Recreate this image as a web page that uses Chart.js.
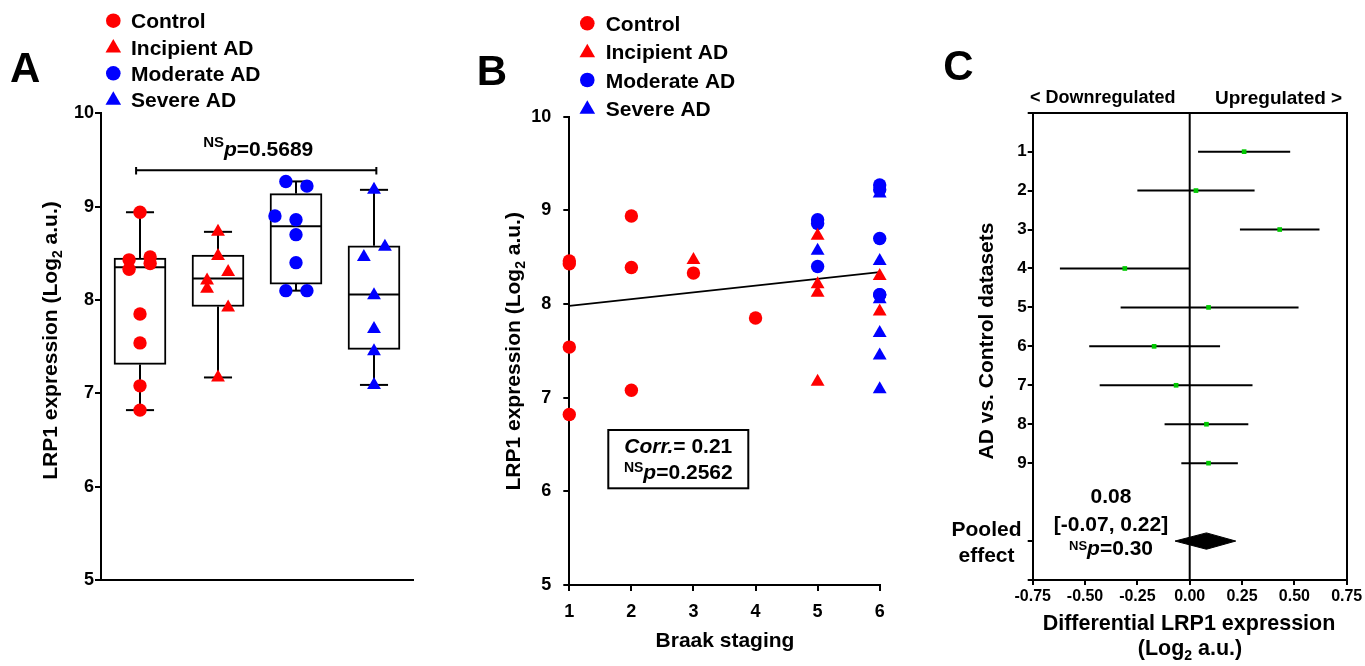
<!DOCTYPE html>
<html><head><meta charset="utf-8">
<script src="https://cdn.jsdelivr.net/npm/chart.js@4.4.1/dist/chart.umd.min.js"></script>
<style>
html,body{margin:0;padding:0;background:#fff;width:1365px;height:666px;overflow:hidden}
canvas{position:absolute;top:0}
#ca{left:0}#cb{left:460px}#cc{left:900px}
</style></head><body>
<canvas id="ca" width="460" height="666"></canvas>
<canvas id="cb" width="440" height="666"></canvas>
<canvas id="cc" width="465" height="666"></canvas>
<script>
// ---------------- DATA ----------------
const groups = ['Control', 'Incipient AD', 'Moderate AD', 'Severe AD'];
const controlValues   = [8.94, 8.46, 8.43, 8.39, 8.33, 7.85, 7.54, 7.08, 6.82];
const controlBraak    = [2, 1, 1, 2, 3, 4, 1, 2, 1];
const controlJitter   = [0, 0.13, -0.14, 0.13, -0.14, 0, 0, 0, 0];
const incipientValues = [8.73, 8.47, 8.30, 8.21, 8.12, 7.92, 7.17];
const incipientBraak  = [5, 3, 6, 5, 5, 6, 5];
const incipientJitter = [0, 0, 0.13, -0.14, -0.14, 0.13, 0];
const moderateValues  = [9.27, 9.22, 8.90, 8.86, 8.70, 8.40, 8.10, 8.10];
const moderateBraak   = [6, 6, 5, 5, 6, 5, 6, 6];
const moderateJitter  = [-0.13, 0.14, -0.27, 0, 0, 0, -0.13, 0.14];
const severeValues    = [9.18, 8.57, 8.46, 8.05, 7.69, 7.45, 7.09];
const severeBraak     = [6, 5, 6, 6, 6, 6, 6];
const severeJitter    = [0, 0.14, -0.13, 0, 0, 0, 0];
const boxQ1       = [7.31, 7.93, 8.17, 7.47];
const boxMedian   = [8.35, 8.23, 8.79, 8.06];
const boxQ3       = [8.45, 8.48, 9.14, 8.58];
const whiskerLow  = [6.82, 7.17, 8.10, 7.09];
const whiskerHigh = [8.94, 8.73, 9.27, 9.18];
const bracketX = [0.95, 4.03];
const bracketY = 9.39;
const expressionTicks = [5, 6, 7, 8, 9, 10];
const braakTicks = [1, 2, 3, 4, 5, 6];
const trendBraak = [1, 6];
const trendValues = [7.98, 8.34];
const datasetIds = [1, 2, 3, 4, 5, 6, 7, 8, 9];
const effectEst  = [0.26, 0.03, 0.43, -0.31, 0.09, -0.17, -0.065, 0.08, 0.09];
const effectLow  = [0.04, -0.25, 0.24, -0.62, -0.33, -0.48, -0.43, -0.12, -0.04];
const effectHigh = [0.48, 0.31, 0.62, 0.00, 0.52, 0.145, 0.30, 0.28, 0.23];
const pooledEffect = [0.08, -0.07, 0.22]; // estimate, low, high
const pooledRow = 11;
const effectTicks = [-0.75, -0.5, -0.25, 0, 0.25, 0.5, 0.75];
const rowTicks = [0, 1, 2, 3, 4, 5, 6, 7, 8, 9, 11, 12];

// ---------------- STYLE ----------------
const FONT = "'Liberation Sans', Arial, Helvetica, sans-serif";
const RED = '#ff0000', BLUE = '#0000ff', GREEN = '#00c800';
const groupValues = [controlValues, incipientValues, moderateValues, severeValues];
const groupJitter = [controlJitter, incipientJitter, moderateJitter, severeJitter];
const groupBraak = [controlBraak, incipientBraak, moderateBraak, severeBraak];
const groupColor = [RED, RED, BLUE, BLUE];
const groupShape = ['circle', 'triangle', 'circle', 'triangle'];
const groupRadius = [6.7, 8, 6.7, 8];

Chart.defaults.font.family = FONT;
Chart.defaults.font.weight = 'bold';
Chart.defaults.color = '#000';

function fnt(s, it) { return (it ? 'italic ' : '') + 'bold ' + s + 'px ' + FONT; }
function rich(ctx, parts, x, y, align) {
  const w = parts.map(p => { ctx.font = fnt(p.s, p.i); return ctx.measureText(p.t).width; });
  const tot = w.reduce((a, b) => a + b, 0);
  let cx = align === 'center' ? x - tot / 2 : (align === 'right' ? x - tot : x);
  ctx.textAlign = 'left'; ctx.textBaseline = 'alphabetic'; ctx.fillStyle = '#000';
  parts.forEach((p, k) => { ctx.font = fnt(p.s, p.i); ctx.fillText(p.t, cx, y + (p.dy || 0)); cx += w[k]; });
}
function rotRich(ctx, parts, x, y) {
  ctx.save(); ctx.translate(x, y); ctx.rotate(-Math.PI / 2); rich(ctx, parts, 0, 0, 'center'); ctx.restore();
}
function marker(ctx, shape, color, x, y, r) {
  ctx.fillStyle = color; ctx.beginPath();
  if (shape === 'circle') ctx.arc(x, y, r, 0, Math.PI * 2);
  else { ctx.moveTo(x, y - r); ctx.lineTo(x + r * 0.866, y + r / 2); ctx.lineTo(x - r * 0.866, y + r / 2); ctx.closePath(); }
  ctx.fill();
}
function legend(ctx, mx, tx, rows) {
  groups.forEach((g, i) => {
    const y = rows[i];
    marker(ctx, groupShape[i], groupColor[i], mx, groupShape[i] === 'circle' ? y : y + 1, groupShape[i] === 'circle' ? 7.3 : 9);
    rich(ctx, [{ t: g, s: 21 }], tx, y + 7.5, 'left');
  });
}
function seg(pts, w) {
  return { type: 'line', data: pts, borderColor: '#000', borderWidth: w || 2, pointRadius: 0, fill: false, order: 5, clip: false, tension: 0 };
}
const axisGrid = { display: true, drawOnChartArea: false, drawTicks: true, tickLength: 6, color: '#000', tickColor: '#000', lineWidth: 2, tickWidth: 2 };
const border = { display: true, color: '#000', width: 2 };
const baseOpts = { responsive: false, animation: false, devicePixelRatio: 1, events: [],
  plugins: { legend: { display: false }, tooltip: { enabled: false } } };

// ---------------- PANEL A ----------------
const aSets = [];
groups.forEach((g, i) => {
  aSets.push({ type: 'scatter', label: g, order: 0, clip: false,
    data: groupValues[i].map((v, k) => ({ x: i + 1 + groupJitter[i][k], y: v })),
    pointStyle: groupShape[i], pointRadius: groupRadius[i], backgroundColor: groupColor[i], borderWidth: 0 });
});
aSets.push({ type: 'bar', label: 'box', order: 10, grouped: false,
  data: groups.map((g, i) => ({ x: i + 1, y: [boxQ1[i], boxQ3[i]] })),
  backgroundColor: '#fff', borderColor: '#000', borderWidth: 2, borderSkipped: false, barThickness: 52 });
groups.forEach((g, i) => {
  const c = i + 1;
  aSets.push(seg([{ x: c, y: boxQ3[i] }, { x: c, y: whiskerHigh[i] }]));
  aSets.push(seg([{ x: c, y: boxQ1[i] }, { x: c, y: whiskerLow[i] }]));
  aSets.push(seg([{ x: c - 0.18, y: whiskerHigh[i] }, { x: c + 0.18, y: whiskerHigh[i] }]));
  aSets.push(seg([{ x: c - 0.18, y: whiskerLow[i] }, { x: c + 0.18, y: whiskerLow[i] }]));
  aSets.push(seg([{ x: c - 0.333, y: boxMedian[i] }, { x: c + 0.333, y: boxMedian[i] }]));
});
aSets.push(seg([{ x: bracketX[0], y: bracketY }, { x: bracketX[1], y: bracketY }]));
aSets.push(seg([{ x: bracketX[0], y: bracketY + 0.035 }, { x: bracketX[0], y: bracketY - 0.045 }]));
aSets.push(seg([{ x: bracketX[1], y: bracketY + 0.035 }, { x: bracketX[1], y: bracketY - 0.045 }]));

new Chart(document.getElementById('ca'), {
  type: 'scatter',
  data: { datasets: aSets },
  options: Object.assign({}, baseOpts, {
    layout: { padding: { left: 0, top: 113.3, right: 47, bottom: 86 } },
    scales: {
      x: { type: 'linear', min: 0.5, max: 4.5, offset: false, grid: { display: false }, border: border,
        ticks: { display: false }, afterFit(s) { s.height = 0; } },
      y: { type: 'linear', min: 5, max: 10, grid: axisGrid, border: border,
        afterBuildTicks(s) { s.ticks = expressionTicks.map(v => ({ value: v })); },
        ticks: { font: { size: 18, weight: 'bold' }, color: '#000', padding: 1 },
        afterFit(s) { s.width = 101; } }
    }
  }),
  plugins: [{ id: 'annA', afterDraw(chart) {
    const ctx = chart.ctx;
    rich(ctx, [{ t: 'A', s: 42 }], 10, 81.7, 'left');
    legend(ctx, 113.3, 131, [20.7, 47, 73.3, 99.3]);
    rotRich(ctx, [{ t: 'LRP1 expression (Log', s: 21 }, { t: '2', s: 14, dy: 5 }, { t: ' a.u.)', s: 21 }], 57, 340.5);
    const cx = chart.scales.x.getPixelForValue((bracketX[0] + bracketX[1]) / 2);
    rich(ctx, [{ t: 'NS', s: 15, dy: -9.3 }, { t: 'p', s: 21, i: true }, { t: '=0.5689', s: 21 }], cx + 2, 156, 'center');
  } }]
});

// ---------------- PANEL B ----------------
const bSets = groups.map((g, i) => ({ type: 'scatter', label: g, order: 0, clip: false,
  data: groupValues[i].map((v, k) => ({ x: groupBraak[i][k], y: v })),
  pointStyle: groupShape[i], pointRadius: groupRadius[i], backgroundColor: groupColor[i], borderWidth: 0 }));
bSets.push(seg(trendBraak.map((b, k) => ({ x: b, y: trendValues[k] })), 1.8));

new Chart(document.getElementById('cb'), {
  type: 'scatter',
  data: { datasets: bSets },
  options: Object.assign({}, baseOpts, {
    layout: { padding: { left: 0, top: 116.7, right: 20.3, bottom: 0 } },
    scales: {
      x: { type: 'linear', min: 1, max: 6, offset: false, grid: axisGrid, border: border,
        afterBuildTicks(s) { s.ticks = braakTicks.map(v => ({ value: v })); },
        ticks: { font: { size: 18, weight: 'bold' }, color: '#000', padding: 10 },
        afterFit(s) { s.height = 81; } },
      y: { type: 'linear', min: 5, max: 10, grid: axisGrid, border: border,
        afterBuildTicks(s) { s.ticks = expressionTicks.map(v => ({ value: v })); },
        ticks: { font: { size: 18, weight: 'bold' }, color: '#000', padding: 12 },
        afterFit(s) { s.width = 109.3; } }
    }
  }),
  plugins: [{ id: 'annB', afterDraw(chart) {
    const ctx = chart.ctx;
    rich(ctx, [{ t: 'B', s: 42 }], 16.7, 85, 'left');
    legend(ctx, 127.3, 145.7, [23.3, 51.7, 80, 108.3]);
    rotRich(ctx, [{ t: 'LRP1 expression (Log', s: 21 }, { t: '2', s: 14, dy: 5 }, { t: ' a.u.)', s: 21 }], 60, 351.3);
    rich(ctx, [{ t: 'Braak staging', s: 21 }], 265, 646.7, 'center');
    ctx.strokeStyle = '#000'; ctx.lineWidth = 2; ctx.strokeRect(148.3, 430, 140, 58.3);
    rich(ctx, [{ t: 'Corr.', s: 21, i: true }, { t: '= 0.21', s: 21 }], 218.3, 452.7, 'center');
    rich(ctx, [{ t: 'NS', s: 14, dy: -7.6 }, { t: 'p', s: 21, i: true }, { t: '=0.2562', s: 21 }], 218.3, 479.3, 'center');
  } }]
});

// ---------------- PANEL C ----------------
const cSets = [];
datasetIds.forEach((d, k) => cSets.push(seg([{ x: effectLow[k], y: d }, { x: effectHigh[k], y: d }])));
cSets.push({ type: 'scatter', label: 'estimate', order: 0, clip: false,
  data: datasetIds.map((d, k) => ({ x: effectEst[k], y: d })),
  pointStyle: 'rect', pointRadius: 3.3, backgroundColor: GREEN, borderWidth: 0 });
cSets.push(seg([{ x: 0, y: 0 }, { x: 0, y: 12 }]));
const dh = 0.21;
cSets.push({ type: 'line', label: 'pooled', order: 1, clip: false,
  data: [{ x: pooledEffect[1], y: pooledRow }, { x: pooledEffect[0], y: pooledRow - dh }, { x: pooledEffect[2], y: pooledRow },
         { x: pooledEffect[0], y: pooledRow + dh }, { x: pooledEffect[1], y: pooledRow }],
  borderColor: '#000', borderWidth: 1, backgroundColor: '#000', fill: 'shape', pointRadius: 0, tension: 0 });

new Chart(document.getElementById('cc'), {
  type: 'scatter',
  data: { datasets: cSets },
  options: Object.assign({}, baseOpts, {
    layout: { padding: { left: 0, top: 112.7, right: 18.3, bottom: 0 } },
    scales: {
      x: { type: 'linear', position: 'bottom', min: -0.75, max: 0.75, offset: false,
        grid: Object.assign({}, axisGrid, { tickLength: 5 }), border: border,
        afterBuildTicks(s) { s.ticks = effectTicks.map(v => ({ value: v })); },
        ticks: { font: { size: 16, weight: 'bold' }, color: '#000', padding: 2, maxRotation: 0, autoSkip: false,
          callback: v => v.toFixed(2) },
        afterFit(s) { s.height = 86; } },
      xTop: { type: 'linear', position: 'top', min: -0.75, max: 0.75, display: true, grid: { display: false },
        border: border, ticks: { display: false }, afterFit(s) { s.height = 0; } },
      y: { type: 'linear', min: 0, max: 12, reverse: true, grid: Object.assign({}, axisGrid, { tickLength: 5 }), border: border,
        afterBuildTicks(s) { s.ticks = rowTicks.map(v => ({ value: v })); },
        ticks: { font: { size: 17, weight: 'bold' }, color: '#000', padding: 1, autoSkip: false,
          callback: v => (datasetIds.indexOf(v) >= 0 ? String(v) : '') },
        afterFit(s) { s.width = 132.7; } },
      yRight: { type: 'linear', position: 'right', min: 0, max: 12, display: true, grid: { display: false },
        border: border, ticks: { display: false }, afterFit(s) { s.width = 0; } }
    }
  }),
  plugins: [{ id: 'annC', afterDraw(chart) {
    const ctx = chart.ctx;
    rich(ctx, [{ t: 'C', s: 42 }], 43.3, 80, 'left');
    rich(ctx, [{ t: '< Downregulated', s: 18 }], 130, 103.3, 'left');
    rich(ctx, [{ t: 'Upregulated >', s: 19 }], 315, 104, 'left');
    rotRich(ctx, [{ t: 'AD vs. Control datasets', s: 21 }], 93.3, 341);
    rich(ctx, [{ t: 'Pooled', s: 21 }], 86.5, 536, 'center');
    rich(ctx, [{ t: 'effect', s: 21 }], 86.5, 561.7, 'center');
    rich(ctx, [{ t: pooledEffect[0].toFixed(2), s: 21 }], 211, 503.3, 'center');
    rich(ctx, [{ t: '[' + pooledEffect[1].toFixed(2) + ', ' + pooledEffect[2].toFixed(2) + ']', s: 21 }], 211, 530.7, 'center');
    rich(ctx, [{ t: 'NS', s: 13, dy: -5 }, { t: 'p', s: 21, i: true }, { t: '=0.30', s: 21 }], 211, 555, 'center');
    rich(ctx, [{ t: 'Differential LRP1 expression', s: 21.5 }], 289, 630, 'center');
    rich(ctx, [{ t: '(Log', s: 21.5 }, { t: '2', s: 14, dy: 5 }, { t: ' a.u.)', s: 21.5 }], 290, 655, 'center');
  } }]
});
</script>
</body></html>
